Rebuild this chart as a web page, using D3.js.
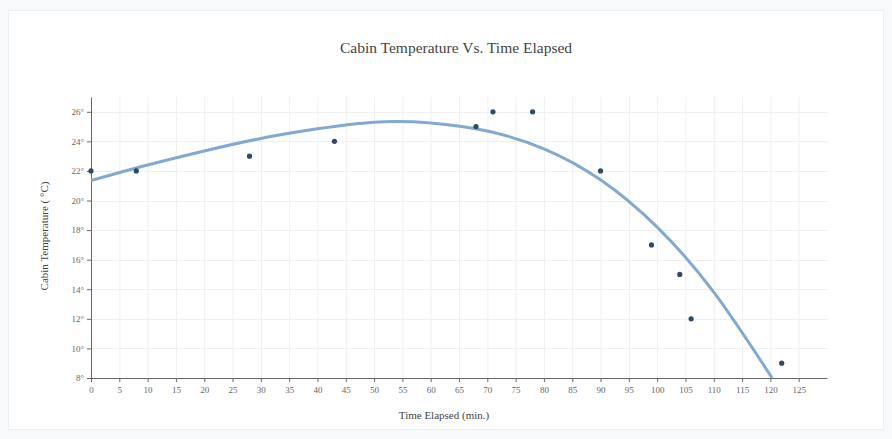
<!DOCTYPE html>
<html><head><meta charset="utf-8">
<script src="https://cdn.jsdelivr.net/npm/d3@7"></script>
<style>
html,body{margin:0;padding:0;background:#f7f9fb;}
</style></head>
<body>
<svg id="c" width="892" height="439"></svg>
<script>
// Observed data points
const times = [0, 8, 28, 43, 68, 71, 78, 90, 99, 104, 106, 122];
const temps = [22, 22, 23, 24, 25, 26, 26, 22, 17, 15, 12, 9];
// Trend curve
const curveTimes = [0, 10, 20, 30, 40, 50, 60, 70, 80, 90, 100, 110, 120.3];
const curveTemps = [21.35, 22.4, 23.35, 24.2, 24.85, 25.3, 25.25, 24.7, 23.5, 21.4, 18.2, 13.8, 8];
const xTicks = [0,5,10,15,20,25,30,35,40,45,50,55,60,65,70,75,80,85,90,95,100,105,110,115,120,125];
const yTicks = [8,10,12,14,16,18,20,22,24,26];
const title = "Cabin Temperature Vs. Time Elapsed";
const xTitle = "Time Elapsed  (min.)";
const yTitle = "Cabin Temperature ( °C)";

const svg = d3.select("#c");
svg.append("rect").attr("x",8.5).attr("y",10.5).attr("width",875).attr("height",419)
  .attr("fill","#fff").attr("stroke","#eceef0");

const x = d3.scaleLinear().domain([0,130]).range([91,827]);
const y = d3.scaleLinear().domain([8,27]).range([378,97]);

const g = svg.append("g");
// grid
g.append("g").selectAll("line").data(xTicks.slice(1)).join("line")
  .attr("x1",d=>x(d)+0.5).attr("x2",d=>x(d)+0.5).attr("y1",y(27)).attr("y2",y(8))
  .attr("stroke","#efefef");
g.append("g").selectAll("line").data(yTicks.slice(1)).join("line")
  .attr("y1",d=>Math.round(y(d))+0.5).attr("y2",d=>Math.round(y(d))+0.5).attr("x1",x(0)).attr("x2",x(130))
  .attr("stroke","#efefef");

const font = "'Liberation Serif', 'DejaVu Serif', serif";
const xAxis = g.append("g").attr("transform",`translate(0,${y(8)})`)
  .call(d3.axisBottom(x).tickValues(xTicks).tickSize(4).tickSizeOuter(0));
const yAxis = g.append("g").attr("transform",`translate(${x(0)},0)`)
  .call(d3.axisLeft(y).tickValues(yTicks).tickFormat(d=>d+"°").tickSize(4).tickSizeOuter(0));
[xAxis,yAxis].forEach(a=>{
  a.select(".domain").attr("stroke","#666");
  a.selectAll(".tick line").attr("stroke","#666");
  a.selectAll("text").attr("fill","#666").style("font-family",font).style("font-size","9px");
});
xAxis.selectAll("text").attr("dy","0.9em");

// curve
const pts = curveTimes.map((t,i)=>[t,curveTemps[i]]);
g.append("path").datum(pts)
  .attr("d", d3.line().x(d=>x(d[0])).y(d=>y(d[1])).curve(d3.curveNatural))
  .attr("fill","none").attr("stroke","#80aad3").attr("stroke-width",3);

// points
g.append("g").selectAll("circle").data(times.map((t,i)=>[t,temps[i]])).join("circle")
  .attr("cx",d=>x(d[0])).attr("cy",d=>y(d[1])).attr("r",2.6).attr("fill","#2e4a6b");

svg.append("text").attr("x",456).attr("y",53).attr("text-anchor","middle")
  .style("font-family",font).style("font-size","15.5px").attr("fill","#444").text(title);
svg.append("text").attr("x",444).attr("y",419).attr("text-anchor","middle")
  .style("font-family",font).style("font-size","11px").attr("fill","#444").text(xTitle);
svg.append("text").attr("transform","translate(48,236) rotate(-90)").attr("text-anchor","middle")
  .style("font-family",font).style("font-size","11px").attr("fill","#444").text(yTitle);
</script>
</body></html>
